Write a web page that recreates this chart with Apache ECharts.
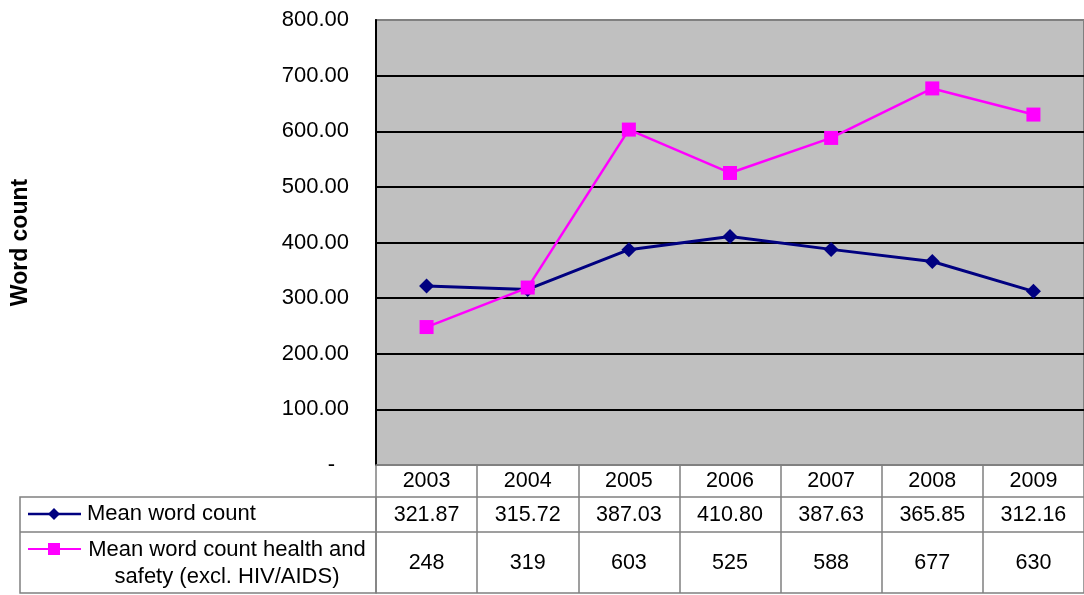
<!DOCTYPE html>
<html>
<head>
<meta charset="utf-8">
<script src="https://cdn.jsdelivr.net/npm/echarts@6/dist/echarts.min.js"></script>
<style>
  html, body { margin: 0; padding: 0; background: #fff; }
  #chart { width: 1084px; height: 595px; }
</style>
</head>
<body>
<div id="chart"></div>
<script>
// Years on the category axis
const years = ['2003', '2004', '2005', '2006', '2007', '2008', '2009'];
// Mean word count per year
const meanWordCount = [321.87, 315.72, 387.03, 410.80, 387.63, 365.85, 312.16];
// Mean word count for health and safety reports (excl. HIV/AIDS)
const healthSafetyCount = [248, 319, 603, 525, 588, 677, 630];
// Series names shown in the data table
const seriesNames = ['Mean word count', 'Mean word count health and\nsafety (excl. HIV/AIDS)'];
// Value axis range
const yMin = 0, yMax = 800, yStep = 100;

const NAVY = '#000080';
const MAGENTA = '#FF00FF';
const BORDER = '#808080';
const FONT = 'Arial, "Liberation Sans", sans-serif';

const chart = echarts.init(document.getElementById('chart'), null, { renderer: 'canvas' });

// Plot-area geometry (pixels)
const gridLeft = 376, gridTop = 20, gridBottom = 130;
const plotBottom = 595 - gridBottom;     // y of the category axis
const row1 = 32, row2 = 67, row3 = 128;  // table row offsets below the axis
const tableLeft = 20;

function tableAxis(offset, labels, margin, extra) {
  return Object.assign({
    type: 'category',
    data: years,
    position: 'bottom',
    offset: offset,
    gridIndex: 0,
    boundaryGap: true,
    axisLine: { show: true, lineStyle: { color: BORDER, width: 1.5 } },
    axisTick: { show: false },
    axisLabel: {
      show: labels !== null,
      interval: 0,
      margin: margin,
      color: '#000',
      fontFamily: FONT,
      fontSize: 21.5,
      formatter: labels ? (v, i) => labels[i] : undefined
    },
    splitLine: { show: false }
  }, extra || {});
}

const option = {
  animation: false,
  backgroundColor: '#fff',
  grid: {
    left: gridLeft, right: 0, top: gridTop, bottom: gridBottom,
    show: true,
    backgroundColor: '#C0C0C0',
    borderColor: BORDER,
    borderWidth: 2
  },
  xAxis: [
    // Header row: years, with column dividers running through the whole table
    tableAxis(0, years, 5, {
      axisTick: {
        show: true, inside: false, length: row3,
        lineStyle: { color: BORDER, width: 1.5 }
      }
    }),
    // Row: mean word count
    tableAxis(row1, meanWordCount.map(v => v.toFixed(2)), 7),
    // Row: health and safety
    tableAxis(row2, healthSafetyCount.map(v => String(v)), 20),
    // Bottom edge of the table
    tableAxis(row3, null, 0)
  ],
  yAxis: {
    type: 'value',
    min: yMin, max: yMax, interval: yStep,
    name: 'Word count',
    nameLocation: 'middle',
    nameRotate: 90,
    nameGap: 344,
    nameTextStyle: { fontFamily: FONT, fontSize: 23, fontWeight: 'bold', color: '#000' },
    axisLine: { show: true, lineStyle: { color: '#000', width: 2 } },
    axisTick: { show: false },
    axisLabel: {
      margin: 27,
      color: '#000',
      fontFamily: FONT,
      fontSize: 22,
      formatter: v => v === 0 ? '{dash|-}' : v.toFixed(2),
      rich: { dash: { fontFamily: FONT, fontSize: 22, color: '#000', padding: [0, 14, 0, 0] } }
    },
    splitLine: {
      show: true, showMinLine: false, showMaxLine: false,
      lineStyle: { color: '#000', width: 1.8 }
    }
  },
  series: [
    {
      name: seriesNames[0],
      type: 'line',
      data: meanWordCount,
      symbol: 'diamond',
      symbolSize: 15,
      itemStyle: { color: NAVY },
      lineStyle: { color: NAVY, width: 3 },
      z: 3
    },
    {
      name: seriesNames[1],
      type: 'line',
      data: healthSafetyCount,
      symbol: 'rect',
      symbolSize: 14,
      itemStyle: { color: MAGENTA },
      lineStyle: { color: MAGENTA, width: 2.5 },
      z: 4
    }
  ],
  graphic: [
    // Legend cells of the data table
    {
      type: 'rect', silent: true,
      shape: { x: tableLeft, y: plotBottom + row1, width: gridLeft - tableLeft, height: row3 - row1 },
      style: { fill: 'none', stroke: BORDER, lineWidth: 1.5 }
    },
    {
      type: 'line', silent: true,
      shape: { x1: tableLeft, y1: plotBottom + row2, x2: gridLeft, y2: plotBottom + row2 },
      style: { stroke: BORDER, lineWidth: 1.5 }
    },
    // Key for the first series
    {
      type: 'line', silent: true,
      shape: { x1: 28, y1: 514, x2: 81, y2: 514 },
      style: { stroke: NAVY, lineWidth: 2.5 }
    },
    {
      type: 'polygon', silent: true,
      shape: { points: [[54, 508], [60, 514], [54, 520], [48, 514]] },
      style: { fill: NAVY }
    },
    {
      type: 'text', silent: true,
      style: {
        x: 87, y: 514, text: seriesNames[0],
        font: '22px ' + FONT, fill: '#000', verticalAlign: 'middle', align: 'left'
      }
    },
    // Key for the second series
    {
      type: 'line', silent: true,
      shape: { x1: 28, y1: 549, x2: 81, y2: 549 },
      style: { stroke: MAGENTA, lineWidth: 2 }
    },
    {
      type: 'rect', silent: true,
      shape: { x: 48, y: 543, width: 12, height: 12 },
      style: { fill: MAGENTA }
    },
    {
      type: 'text', silent: true,
      style: {
        x: 227, y: 563, text: seriesNames[1],
        font: '22px ' + FONT, lineHeight: 27, fill: '#000', verticalAlign: 'middle', align: 'center'
      }
    }
  ]
};

chart.setOption(option);
</script>
</body>
</html>
